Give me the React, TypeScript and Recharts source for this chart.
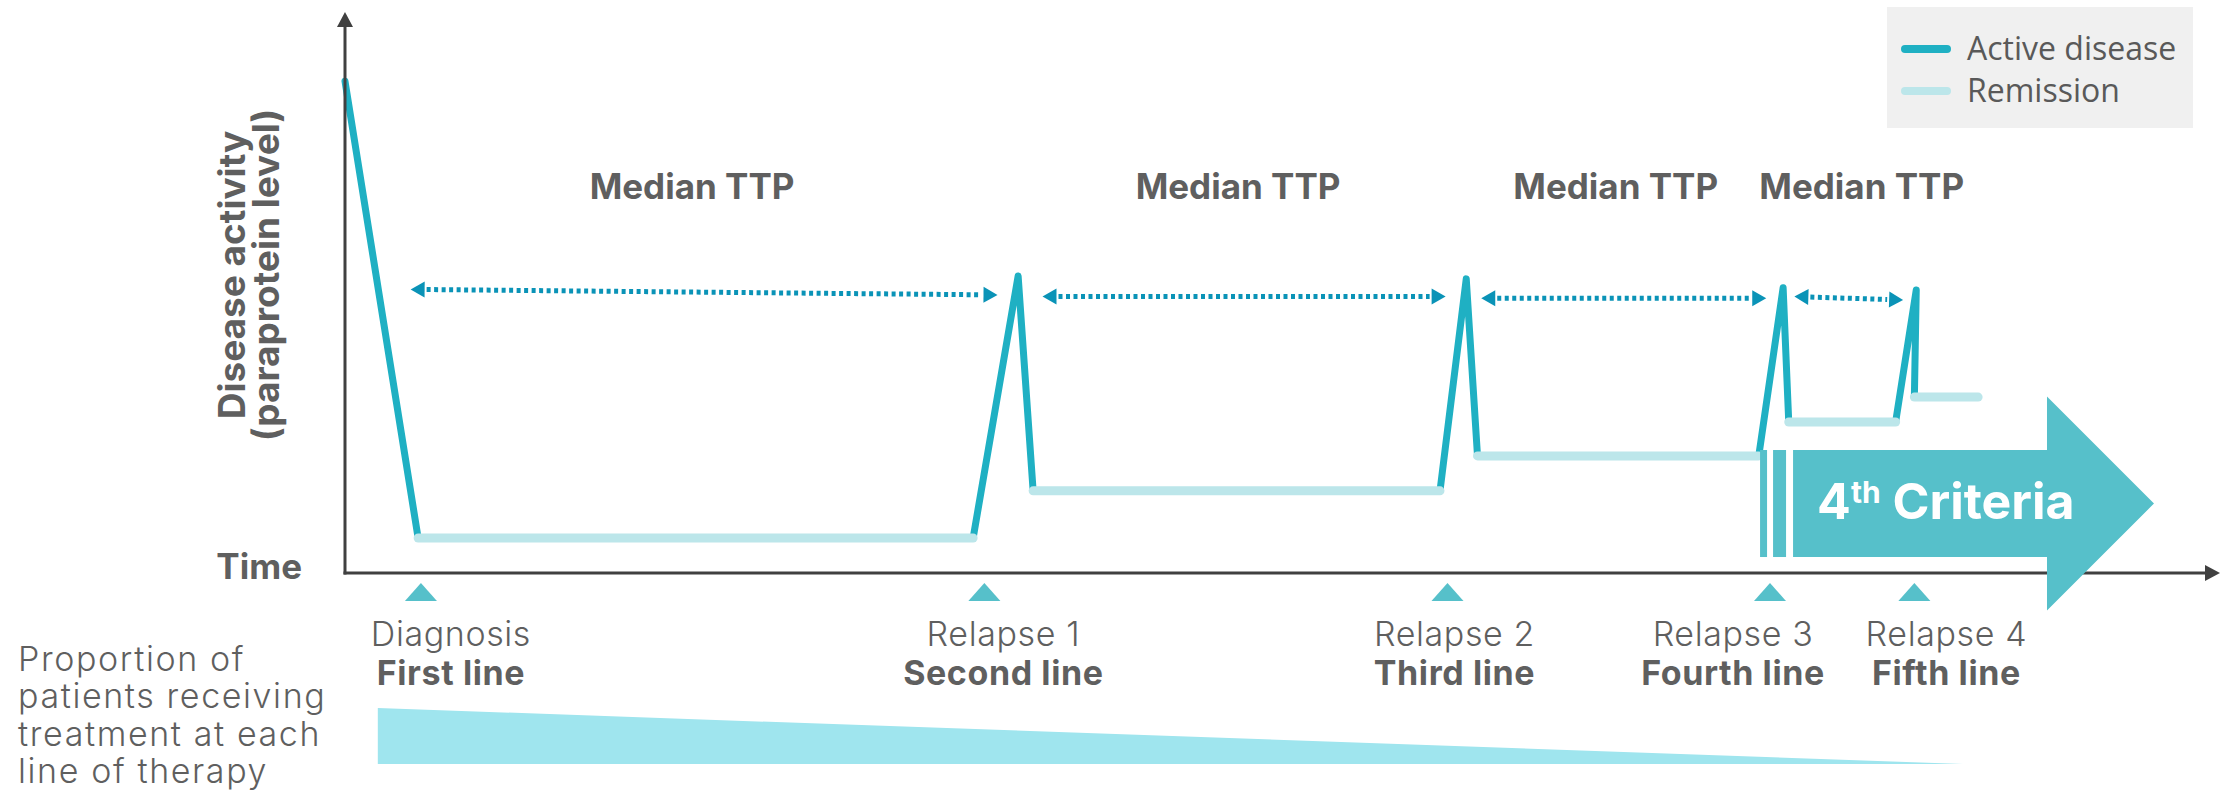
import React from 'react';
import {
  ComposedChart,
  XAxis,
  YAxis,
  Line,
  Area,
  Scatter,
  ReferenceLine,
  ReferenceArea,
} from 'recharts';

// disease course (time units 0-100, activity units 0-100)
const diagnosisLevel = 88.6;
const remissionStart = [3.9, 36.7, 60.4, 77.0, 83.7];
const remissionEnd = [33.5, 58.4, 75.4, 82.7, 87.1];
const remissionLevel = [6.3, 14.8, 21.1, 27.2, 31.7];
const relapsePeakTime = [35.9, 59.8, 76.7, 83.8];
const relapsePeakLevel = [53.5, 53.0, 51.4, 51.0];

// median time to progression arrows
const ttpStart = [3.5, 37.2, 60.6, 77.3];
const ttpEnd = [34.8, 58.7, 75.8, 83.1];
const ttpStartLevel = [51.1, 49.8, 49.5, 49.8];
const ttpEndLevel = [50.1, 49.8, 49.5, 49.2];
const ttpLabels = ['Median TTP', 'Median TTP', 'Median TTP', 'Median TTP'];

// events on the time axis
const eventTime = [4.05, 34.1, 58.8, 76.0, 83.7];
const eventNames = ['Diagnosis', 'Relapse 1', 'Relapse 2', 'Relapse 3', 'Relapse 4'];
const therapyLines = ['First line', 'Second line', 'Third line', 'Fourth line', 'Fifth line'];

// proportion of patients treated (%)
const proportionTime = [1.75, 86.3];
const proportionShare = [100, 0];

// 4th criteria band
const criteriaFrom = 75.47;
const criteriaTo = 96.48;
const criteriaLow = 2.88;
const criteriaHigh = 22.16;

const legendItems = ['Active disease', 'Remission'];
const proportionText = ['Proportion of', 'patients receiving', 'treatment at each', 'line of therapy'];

// layout / style
const W = 2234;
const H = 795;
const X_DOMAIN: [number, number] = [-18.4, 100.747];
const Y_DOMAIN: [number, number] = [-40, 103.243];
const SHARE_DOMAIN: [number, number] = [-55.36, 1364.29];
const ACTIVE = '#1fb0c3';
const REMISSION = '#bce6ea';
const TTP = '#0a93b7';
const TEAL = '#56c0ca';
const WEDGE = '#9fe5ee';
const AXIS = '#404040';
const TEXT = '#5f5f5f';
const FONT = 'Inter, Roboto, "Noto Sans", sans-serif';
const LEGEND_FONT = '"Open Sans", "Noto Sans", sans-serif';
const LABEL_DX = [30, 19, 7, -37, 32];
const TTP_DX = [-12, -6, -8, 13];
const TTP_BASELINE = 199;

const activeSegments = [
  [
    { x: 0, y: diagnosisLevel },
    { x: remissionStart[0], y: remissionLevel[0] },
  ],
  ...relapsePeakTime.map((t, i) => [
    { x: remissionEnd[i], y: remissionLevel[i] },
    { x: t, y: relapsePeakLevel[i] },
    { x: remissionStart[i + 1], y: remissionLevel[i + 1] },
  ]),
];

const remissionSegments = remissionStart.map((s, i) => [
  { x: s, y: remissionLevel[i] },
  { x: remissionEnd[i], y: remissionLevel[i] },
]);

const wedgeData = proportionTime.map((x, i) => ({ x, share: proportionShare[i] }));

const eventData = eventTime.map((x, i) => ({ x, y: 0, idx: i }));

const XAxisArrow = (p: any) => {
  const { x1, y1, x2, y2 } = p;
  return (
    <g>
      <line x1={x1 - 1.5} y1={y1} x2={x2 - 12} y2={y2} stroke={AXIS} strokeWidth={3} />
      <path d={`M${x2},${y2} L${x2 - 15},${y2 - 8} L${x2 - 15},${y2 + 8} Z`} fill={AXIS} />
      <text x={x1 - 43} y={y1 + 6} textAnchor="end" fontFamily={FONT} fontWeight={700} fontSize={35} fill={TEXT}>
        Time
      </text>
    </g>
  );
};

const YAxisArrow = (p: any) => {
  const { x1, y1, x2, y2 } = p;
  const cx = 262;
  const cy = 275;
  return (
    <g>
      <line x1={x1} y1={y1 + 1.5} x2={x2} y2={y2 + 12} stroke={AXIS} strokeWidth={3} />
      <path d={`M${x2},${y2} L${x2 - 8},${y2 + 15} L${x2 + 8},${y2 + 15} Z`} fill={AXIS} />
      <text
        transform={`rotate(-90, ${cx}, ${cy})`}
        textAnchor="middle"
        fontFamily={FONT}
        fontWeight={700}
        fontSize={37}
        fill={TEXT}
      >
        <tspan x={cx} y={cy - 17}>Disease activity</tspan>
        <tspan x={cx} y={cy + 17}>(paraprotein level)</tspan>
      </text>
    </g>
  );
};

const TtpArrow = (p: any) => {
  const { x1, y1, x2, y2, label, dx } = p;
  const len = Math.hypot(x2 - x1, y2 - y1);
  const ux = (x2 - x1) / len;
  const uy = (y2 - y1) / len;
  const L = 14;
  const Wd = 8;
  const head = (tx: number, ty: number, dir: number) => {
    const bx = tx - dir * ux * L;
    const by = ty - dir * uy * L;
    return `M${tx},${ty} L${bx - uy * Wd},${by + ux * Wd} L${bx + uy * Wd},${by - ux * Wd} Z`;
  };
  return (
    <g>
      <line
        x1={x1 + ux * (L + 2)}
        y1={y1 + uy * (L + 2)}
        x2={x2 - ux * (L + 2)}
        y2={y2 - uy * (L + 2)}
        stroke={TTP}
        strokeWidth={5}
        strokeDasharray="4 3.5"
      />
      <path d={head(x1, y1, -1)} fill={TTP} />
      <path d={head(x2, y2, 1)} fill={TTP} />
      <text
        x={(x1 + x2) / 2 + dx}
        y={TTP_BASELINE}
        textAnchor="middle"
        fontFamily={FONT}
        fontWeight={700}
        fontSize={35}
        fill={TEXT}
      >
        {label}
      </text>
    </g>
  );
};

const CriteriaArrow = (p: any) => {
  const { x, y, width, height } = p;
  const h = height;
  const headX = x + width - h;
  const body = x + 33;
  return (
    <g>
      <rect x={x} y={y} width={7} height={h} fill={TEAL} />
      <rect x={x + 13} y={y} width={13} height={h} fill={TEAL} />
      <path
        d={`M${body},${y} L${headX},${y} L${headX},${y - h / 2} L${x + width},${y + h / 2} L${headX},${y + h * 1.5} L${headX},${y + h} L${body},${y + h} Z`}
        fill={TEAL}
      />
      <text x={x + 57} y={y + 69} fontFamily={FONT} fontWeight={700} fontSize={50} fill="#ffffff">
        <tspan>4</tspan>
        <tspan fontSize={30} dy={-16}>th</tspan>
        <tspan dy={16}> Criteria</tspan>
      </text>
    </g>
  );
};

const EventTick = (p: any) => {
  const { cx, cy, payload } = p;
  const i = payload.idx;
  const lx = cx + LABEL_DX[i];
  return (
    <g>
      <path d={`M${cx - 16},${cy + 28} L${cx},${cy + 10} L${cx + 16},${cy + 28} Z`} fill={TEAL} />
      <text
        x={lx}
        y={cy + 73}
        textAnchor="middle"
        fontFamily={FONT}
        fontWeight={300}
        fontSize={34}
        letterSpacing={0.6}
        fill={TEXT}
      >
        {eventNames[i]}
      </text>
      <text
        x={lx}
        y={cy + 112}
        textAnchor="middle"
        fontFamily={FONT}
        fontWeight={700}
        fontSize={34}
        letterSpacing={0.6}
        fill={TEXT}
      >
        {therapyLines[i]}
      </text>
    </g>
  );
};

export default function App() {
  return (
    <div style={{ position: 'absolute', left: 0, top: 0, width: W, height: H, background: '#fff' }}>
      <ComposedChart width={W} height={H} margin={{ top: 0, right: 0, bottom: 0, left: 0 }}>
        <XAxis type="number" dataKey="x" domain={X_DOMAIN} allowDataOverflow hide />
        <YAxis type="number" domain={Y_DOMAIN} allowDataOverflow hide />
        <YAxis yAxisId="share" type="number" domain={SHARE_DOMAIN} allowDataOverflow hide />

        <Area
          yAxisId="share"
          data={wedgeData}
          dataKey="share"
          baseValue={0}
          type="linear"
          stroke="none"
          fill={WEDGE}
          fillOpacity={1}
          isAnimationActive={false}
          legendType="none"
        />

        {activeSegments.map((seg, i) => (
          <Line
            key={`active-${i}`}
            data={seg}
            dataKey="y"
            type="linear"
            stroke={ACTIVE}
            strokeWidth={7}
            strokeLinecap="round"
            strokeLinejoin="round"
            dot={false}
            activeDot={false}
            isAnimationActive={false}
            legendType="none"
          />
        ))}
        {remissionSegments.map((seg, i) => (
          <Line
            key={`rem-${i}`}
            data={seg}
            dataKey="y"
            type="linear"
            stroke={REMISSION}
            strokeWidth={9}
            strokeLinecap="round"
            dot={false}
            activeDot={false}
            isAnimationActive={false}
            legendType="none"
          />
        ))}

        {ttpStart.map((s, i) => (
          <ReferenceLine
            key={`ttp-${i}`}
            segment={[
              { x: s, y: ttpStartLevel[i] },
              { x: ttpEnd[i], y: ttpEndLevel[i] },
            ]}
            shape={(p: any) => <TtpArrow {...p} label={ttpLabels[i]} dx={TTP_DX[i]} />}
          />
        ))}

        <ReferenceLine
          segment={[
            { x: 0, y: 0 },
            { x: 100, y: 0 },
          ]}
          shape={(p: any) => <XAxisArrow {...p} />}
        />
        <ReferenceLine
          segment={[
            { x: 0, y: 0 },
            { x: 0, y: 101.1 },
          ]}
          shape={(p: any) => <YAxisArrow {...p} />}
        />

        <ReferenceArea
          x1={criteriaFrom}
          x2={criteriaTo}
          y1={criteriaLow}
          y2={criteriaHigh}
          shape={(p: any) => <CriteriaArrow {...p} />}
          zIndex={450}
        />

        <Scatter data={eventData} dataKey="y" shape={(p: any) => <EventTick {...p} />} isAnimationActive={false} legendType="none" />
      </ComposedChart>

      <svg width={W} height={H} style={{ position: 'absolute', left: 0, top: 0, pointerEvents: 'none' }}>
        <rect x={1887} y={7} width={306} height={121} fill="#f0f0f0" />
        {legendItems.map((name, i) => (
          <g key={name}>
            <line
              x1={1905}
              x2={1947}
              y1={49 + i * 42}
              y2={49 + i * 42}
              stroke={i === 0 ? ACTIVE : REMISSION}
              strokeWidth={8}
              strokeLinecap="round"
            />
            <text x={1967} y={60 + i * 42} fontFamily={LEGEND_FONT} fontSize={32} fill="#595959">
              {name}
            </text>
          </g>
        ))}
        {proportionText.map((t, i) => (
          <text
            key={t}
            x={18}
            y={671 + i * 37.3}
            fontFamily={FONT}
            fontWeight={300}
            fontSize={34}
            letterSpacing={1.6}
            fill={TEXT}
          >
            {t}
          </text>
        ))}
      </svg>
    </div>
  );
}
